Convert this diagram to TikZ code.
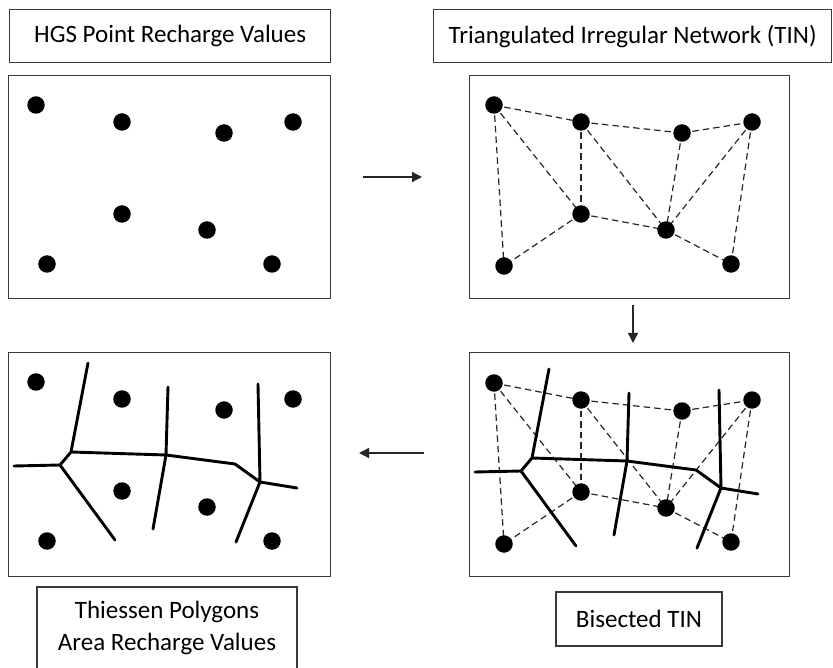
\documentclass[tikz,border=0pt]{standalone}
\usepackage{fontspec}
\setmainfont{Carlito}
\usetikzlibrary{arrows.meta}

% dot positions inside a panel (left column and right column)
\newcommand\leftdots{1/28/30,2/114/47,3/216/58,4/285/47,5/114/139,6/199/155,7/39/189,8/264/189}
\newcommand\rightdots{1/25/30,2/112/47,3/213/58,4/283/47,5/112/139,6/197/155,7/35/191,8/262/189}

% points of the dots, prefix #1, list #2
\newcommand\placepoints[2]{%
  \foreach \i/\px/\py in #2 {\coordinate (#1\i) at (\px,\py);}}
\newcommand\drawdots[1]{%
  \foreach \i in {1,...,8} {\node[dot] (#1d\i) at (#1\i) {};}}
% triangulation
\newcommand\drawtin[1]{%
  \foreach \a/\b in {1/2,1/5,1/7,2/3,3/4,2/5,2/6,3/6,4/6,4/8,5/6,5/7,6/8}
    {\draw[tinedge] (#1\a) -- (#1\b);}}
% perpendicular bisectors (Thiessen polygon edges)
\newcommand\drawcells[1]{%
  \coordinate (#1v1) at (80,11);  \coordinate (#1j1) at (63,100);
  \coordinate (#1j0) at (52,113); \coordinate (#1l) at (6,114);
  \coordinate (#1b1) at (107,188);\coordinate (#1j2) at (158,103);
  \coordinate (#1v2) at (160,35); \coordinate (#1b2) at (145,177);
  \coordinate (#1k) at (227,112); \coordinate (#1j3) at (252,130);
  \coordinate (#1r) at (289,136); \coordinate (#1v3) at (250,32);
  \coordinate (#1b3) at (228,190);
  \draw[bisect] (#1v1) -- (#1j1) -- (#1j0) -- (#1l);
  \draw[bisect] (#1j0) -- (#1b1);
  \draw[bisect] (#1j1) -- (#1j2) -- (#1k) -- (#1j3) -- (#1r);
  \draw[bisect] (#1v2) -- (#1j2) -- (#1b2);
  \draw[bisect] (#1v3) -- (#1j3) -- (#1b3);}

\begin{document}
\begin{tikzpicture}[x=1pt,y=-1pt,
  frame/.style={draw=black!78, line width=1.3pt},
  titlebox/.style={frame, anchor=north west, inner sep=0pt,
    font=\fontsize{25}{30}\selectfont},
  panel/.style={frame, anchor=north west, inner sep=0pt},
  dot/.style={circle, fill=black, inner sep=0pt, minimum size=17.5pt},
  tinedge/.style={line width=1.2pt, dash pattern=on 6.5pt off 4pt, black!85},
  bisect/.style={line width=2.9pt, line join=round, line cap=round},
  flow/.style={-{Triangle[length=10pt,width=10pt]}, line width=1.4pt, black!85}]

\useasboundingbox (0,0) rectangle (833,668);

% titles
\node[titlebox, minimum width=321pt, minimum height=53pt] (t1) at (9,9)
  {HGS Point Recharge Values};
\node[titlebox, minimum width=398pt, minimum height=53pt] (t2) at (433,9)
  {Triangulated Irregular Network (TIN)};

% panels
\node[panel, minimum width=322pt, minimum height=223pt] (p1) at (8,75) {};
\node[panel, minimum width=320pt, minimum height=223pt] (p2) at (469,75) {};
\node[panel, minimum width=322pt, minimum height=224pt] (p3) at (8,352) {};
\node[panel, minimum width=320pt, minimum height=224pt] (p4) at (469,352) {};

% point recharge values
\begin{scope}[shift={(8,75)}]
  \placepoints{a}{\leftdots}
  \drawdots{a}
\end{scope}

% triangulated network
\begin{scope}[shift={(469,75)}]
  \placepoints{b}{\rightdots}
  \drawtin{b}
  \drawdots{b}
\end{scope}

% Thiessen polygons
\begin{scope}[shift={(8,352)}]
  \placepoints{c}{\leftdots}
  \drawcells{c}
  \drawdots{c}
\end{scope}

% bisected network
\begin{scope}[shift={(469,353)}]
  \placepoints{e}{\rightdots}
  \drawtin{e}
  \begin{scope}[yshift=-5pt]
    \drawcells{f}
  \end{scope}
  \drawdots{e}
\end{scope}

% lower captions
\draw[frame] (37,700) |- (297,587) -- (297,700);
\node[align=center, font=\fontsize{25}{32}\selectfont] (t3) at (167,628)
  {Thiessen Polygons\\Area Recharge Values};
\node[titlebox, anchor=center, minimum width=166pt, minimum height=54pt] (t4)
  at (639,619) {Bisected TIN};

% flow arrows
\coordinate (r1) at (363,177);  \coordinate (r2) at (422,177);
\coordinate (d1) at (633,305);  \coordinate (d2) at (633,343);
\coordinate (l1) at (424,453);  \coordinate (l2) at (359,453);
\draw[flow] (r1) -- (r2);
\draw[flow] (d1) -- (d2);
\draw[flow] (l1) -- (l2);
\end{tikzpicture}
\end{document}
